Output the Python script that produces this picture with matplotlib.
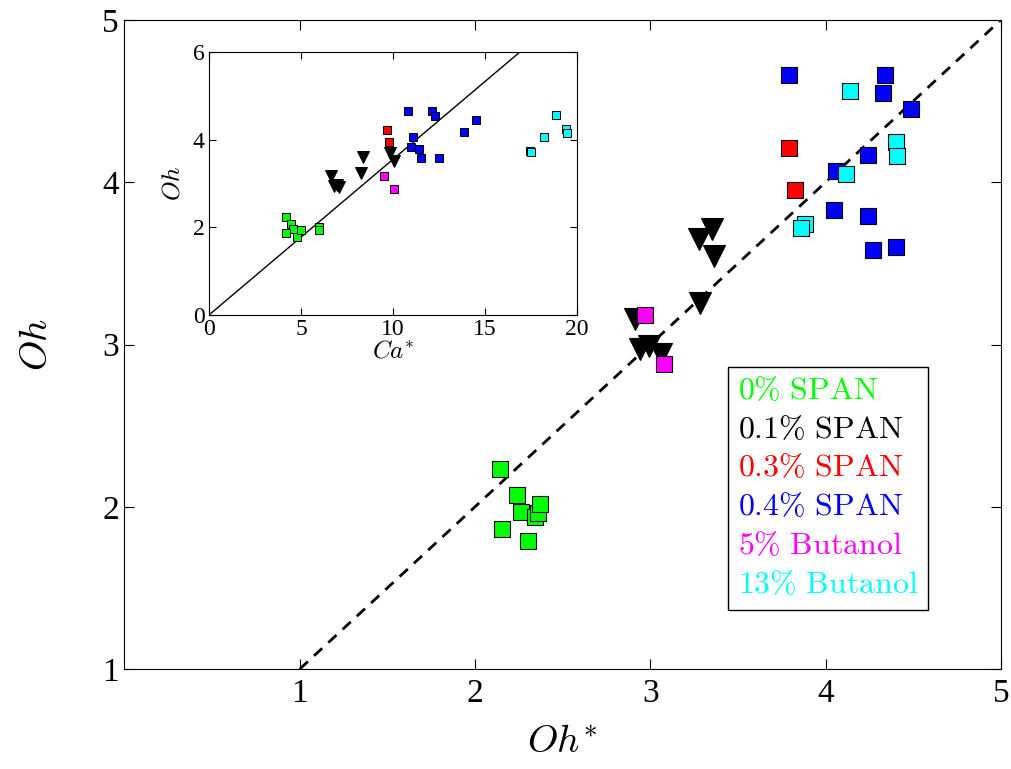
import matplotlib
matplotlib.use('Agg')
import matplotlib.pyplot as plt
from matplotlib.lines import Line2D

plt.rcParams['font.family'] = ['Liberation Serif', 'DejaVu Serif']
plt.rcParams['mathtext.fontset'] = 'cm'

# main plot: Oh* vs Oh
groups = ['0% SPAN', '0.1% SPAN', '0.3% SPAN', '0.4% SPAN', '5% Butanol', '13% Butanol']
colors = ['#00ff00', 'black', 'red', 'blue', 'magenta', 'cyan']
markers = ['s', 'v', 's', 's', 's', 's']

oh_star = [
    [2.14, 2.24, 2.26, 2.34, 2.36, 2.37, 2.155, 2.30],
    [3.35, 3.28, 3.365, 3.285, 2.91, 2.94, 2.99, 3.06],
    [3.79, 3.825],
    [3.79, 4.34, 4.33, 4.49, 4.24, 4.06, 4.05, 4.24, 4.27, 4.40],
    [2.97, 3.08],
    [4.14, 4.40, 4.41, 4.115, 3.88, 3.86],
]
oh = [
    [2.235, 2.07, 1.97, 1.94, 1.96, 2.02, 1.86, 1.79],
    [3.71, 3.65, 3.545, 3.257, 3.155, 2.97, 2.99, 2.94],
    [4.21, 3.95],
    [4.66, 4.66, 4.55, 4.45, 4.17, 4.07, 3.83, 3.79, 3.58, 3.60],
    [3.18, 2.88],
    [4.56, 4.245, 4.16, 4.05, 3.745, 3.72],
]

# inset: Ca* vs Oh
ca_star = [
    [4.19, 4.46, 4.55, 4.21, 4.81, 4.99, 5.96, 5.96],
    [9.85, 8.37, 10.06, 8.26, 6.65, 6.81, 6.95, 7.05],
    [9.67, 9.81],
    [10.8, 12.14, 12.27, 14.54, 13.84, 11.09, 10.98, 11.42, 11.51, 12.5],
    [9.54, 10.06],
    [18.88, 19.4, 19.46, 18.21, 17.47, 17.5],
]
oh_inset = [
    [2.23, 2.07, 1.96, 1.86, 1.79, 1.94, 2.01, 1.94],
    [3.69, 3.61, 3.52, 3.25, 3.16, 2.94, 2.96, 2.93],
    [4.21, 3.95],
    [4.65, 4.65, 4.54, 4.44, 4.17, 4.06, 3.83, 3.79, 3.57, 3.59],
    [3.18, 2.875],
    [4.56, 4.24, 4.15, 4.05, 3.73, 3.72],
]
inset_slope = 6 / 16.9

fig = plt.figure(figsize=(10.12, 7.69), dpi=100)
ax = fig.add_axes([0.123, 0.130, 0.866, 0.844])

ax.plot([1, 5], [1, 5], 'k--', lw=2, dashes=(4, 3), zorder=1)
for xs, ys, c, m in zip(oh_star, oh, colors, markers):
    ms = 16 if m == 'v' else 11
    ax.plot(xs, ys, linestyle='none', marker=m, ms=ms, mfc=c, mec='k', mew=0.8, zorder=3)

ax.set_xlim(0, 5)
ax.set_ylim(1, 5)
ax.set_xticks([1, 2, 3, 4, 5])
ax.set_yticks([1, 2, 3, 4, 5])
ax.tick_params(direction='in', top=True, right=True, labelsize=24, length=7)
ax.tick_params(axis='x', pad=7)
ax.tick_params(axis='y', pad=4)
ax.set_xlabel('$Oh^{*}$', fontsize=28)
ax.set_ylabel('$Oh$', fontsize=28)
ax.xaxis.set_label_coords(0.5, -0.085)
ax.yaxis.set_label_coords(-0.078, 0.5)

handles = [Line2D([], [], linestyle='none') for _ in groups]
labels = [r'$\mathrm{' + g.replace('%', r'\%').replace(' ', r'\ ') + '}$' for g in groups]
leg = ax.legend(handles, labels, loc='lower left', bbox_to_anchor=(0.689, 0.091),
                borderaxespad=0, handlelength=0, handletextpad=0, fontsize=23,
                labelcolor=colors, fancybox=False, framealpha=1, edgecolor='k',
                labelspacing=0.3, borderpad=0.3)
leg.get_frame().set_linewidth(1)

# inset
axi = fig.add_axes([0.2065, 0.5904, 0.3636, 0.342])
xl = [0, 6 / inset_slope]
axi.plot(xl, [inset_slope * v for v in xl], 'k-', lw=1, zorder=1)
for xs, ys, c, m in zip(ca_star, oh_inset, colors, markers):
    ms = 9 if m == 'v' else 6
    axi.plot(xs, ys, linestyle='none', marker=m, ms=ms, mfc=c, mec='k', mew=0.7, zorder=3)
axi.set_xlim(0, 20)
axi.set_ylim(0, 6)
axi.set_xticks([0, 5, 10, 15, 20])
axi.set_yticks([0, 2, 4, 6])
axi.tick_params(direction='in', top=True, right=True, labelsize=17, length=5, pad=3)
axi.set_xlabel('$Ca^{*}$', fontsize=18, labelpad=0)
axi.set_ylabel('$Oh$', fontsize=18, labelpad=6)

fig.savefig('out.png', dpi=100)
